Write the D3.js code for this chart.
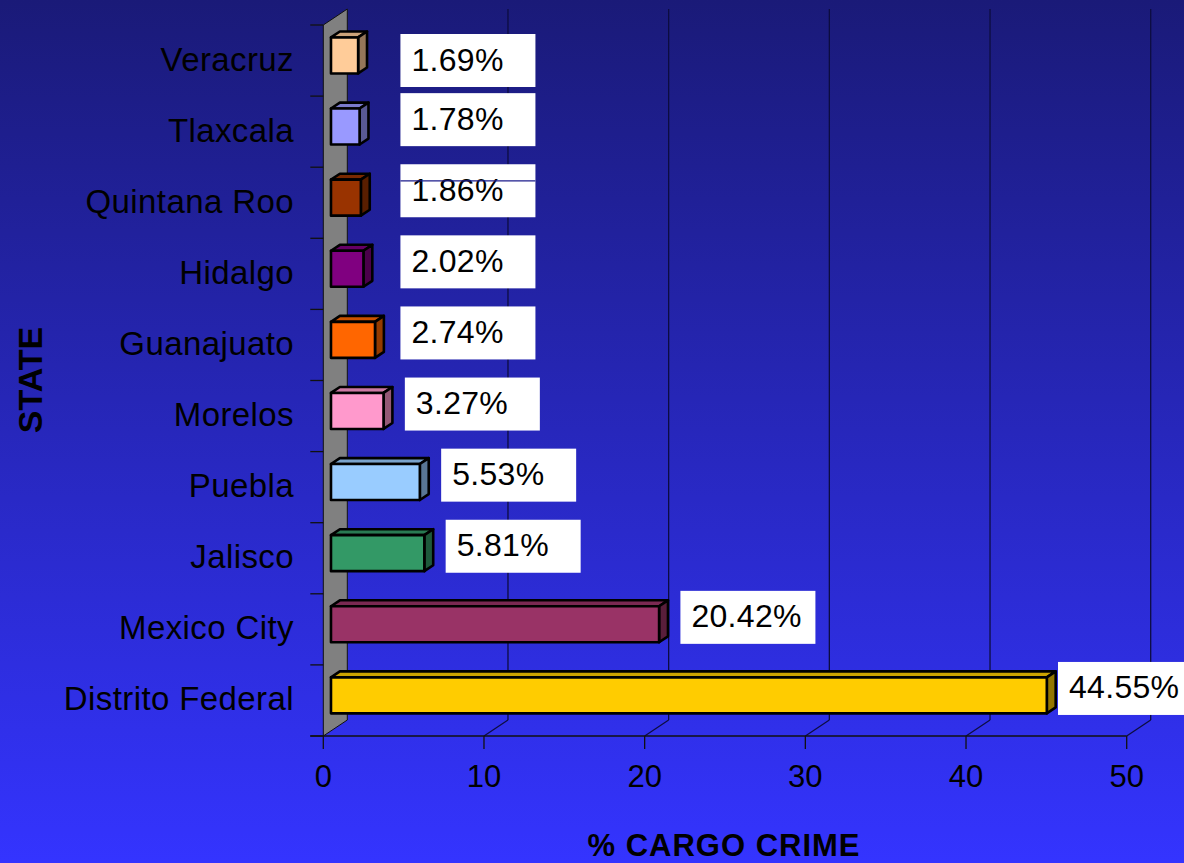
<!DOCTYPE html>
<html>
<head>
<meta charset="utf-8">
<script src="https://cdn.jsdelivr.net/npm/d3@7"></script>
<style>
  body { margin: 0; padding: 0; overflow: hidden; }
  text { font-family: "Liberation Sans", Arial, sans-serif; fill: #000; }
</style>
</head>
<body>
<script>
var states = ['Veracruz', 'Tlaxcala', 'Quintana Roo', 'Hidalgo', 'Guanajuato',
  'Morelos', 'Puebla', 'Jalisco', 'Mexico City', 'Distrito Federal'];
var cargoPct = [1.69, 1.78, 1.86, 2.02, 2.74, 3.27, 5.53, 5.81, 20.42, 44.55];
var barColors = ['#ffcc99', '#9999ff', '#993300', '#800080', '#ff6600',
  '#ff99cc', '#99ccff', '#339966', '#993366', '#ffcc00'];
var xTicks = [0, 10, 20, 30, 40, 50];

var width = 1184,
  height = 863;

// 3d depth of the chart floor / back wall
var depthX = 24,
  depthY = -16;

var svg = d3.select('body').append('svg')
  .attr('width', width)
  .attr('height', height);

var defs = svg.append('defs');
var grad = defs.append('linearGradient')
  .attr('id', 'bg')
  .attr('x1', 0).attr('y1', 0)
  .attr('x2', 0).attr('y2', 1);
grad.append('stop').attr('offset', '0%').attr('stop-color', '#1a1a78');
grad.append('stop').attr('offset', '100%').attr('stop-color', '#3434ff');

svg.append('rect')
  .attr('width', width)
  .attr('height', height)
  .attr('fill', 'url(#bg)');

var x = d3.scaleLinear()
  .domain([0, 50])
  .range([323.3, 1126.7]);

var y = d3.scaleBand()
  .domain(states)
  .range([25, 736]);

var x0 = x(0),
  yTop = y.range()[0],
  yBot = y.range()[1];

// back wall gridlines + floor diagonals
var grid = svg.append('g');
xTicks.slice(1).forEach(function(t) {
  grid.append('line')
    .attr('x1', x(t) + depthX).attr('x2', x(t) + depthX)
    .attr('y1', yTop + depthY).attr('y2', yBot + depthY)
    .attr('stroke', '#0d0d40').attr('stroke-width', 1.3);
  grid.append('line')
    .attr('x1', x(t)).attr('y1', yBot)
    .attr('x2', x(t) + depthX).attr('y2', yBot + depthY)
    .attr('stroke', '#0d0d40').attr('stroke-width', 1.3);
});

// grey side wall
svg.append('polygon')
  .attr('points', [
    [x0, yTop], [x0 + depthX, yTop + depthY],
    [x0 + depthX, yBot + depthY], [x0, yBot]
  ].join(' '))
  .attr('fill', '#808080')
  .attr('stroke', '#111')
  .attr('stroke-width', 1);

// front x axis
var axisG = svg.append('g');
axisG.append('line')
  .attr('x1', x0 - 13).attr('x2', x(50))
  .attr('y1', yBot).attr('y2', yBot)
  .attr('stroke', '#111').attr('stroke-width', 1.3);
axisG.selectAll('.xtick')
  .data(xTicks)
  .enter().append('line')
  .attr('x1', function(d) { return x(d); })
  .attr('x2', function(d) { return x(d); })
  .attr('y1', yBot).attr('y2', yBot + 13)
  .attr('stroke', '#111').attr('stroke-width', 1.3);
axisG.selectAll('.xlab')
  .data(xTicks)
  .enter().append('text')
  .attr('x', function(d) { return x(d); })
  .attr('y', 787)
  .style('text-anchor', 'middle')
  .style('font-size', '31px')
  .text(function(d) { return d; });

// category ticks on the wall edge
var catTicks = states.map(function(s) { return y(s); }).concat([yBot]);
axisG.selectAll('.ytick')
  .data(catTicks)
  .enter().append('line')
  .attr('x1', x0 - 13).attr('x2', x0)
  .attr('y1', function(d) { return d; })
  .attr('y2', function(d) { return d; })
  .attr('stroke', '#111').attr('stroke-width', 1.3);

axisG.selectAll('.ylab')
  .data(states)
  .enter().append('text')
  .attr('x', 294)
  .attr('y', function(d) { return y(d) + y.bandwidth() / 2 + 10; })
  .style('text-anchor', 'end')
  .style('font-size', '33px')
  .style('letter-spacing', '0.4px')
  .text(function(d) { return d; });

// 3d bars
var f0 = 0.32,   // front face position in depth
  fd = 0.37;     // bar thickness in depth
var offX = depthX * f0, offY = depthY * f0;
var bdx = depthX * fd, bdy = depthY * fd;
var barH = 36;

var bars = svg.selectAll('.bar')
  .data(cargoPct)
  .enter().append('g');

bars.each(function(v, i) {
  var g = d3.select(this);
  var col = d3.color(barColors[i]);
  var cy = y(states[i]) + y.bandwidth() / 2 + offY;
  var left = x0 + offX,
    right = x(v) + offX,
    top = cy - barH / 2,
    bot = cy + barH / 2;

  var topCol = d3.rgb(col.r * 0.8, col.g * 0.8, col.b * 0.8);
  var sideCol = d3.rgb(col.r * 0.58, col.g * 0.58, col.b * 0.58);

  g.append('polygon')
    .attr('points', [[left, top], [left + bdx, top + bdy], [right + bdx, top + bdy], [right, top]].join(' '))
    .attr('fill', topCol);
  g.append('polygon')
    .attr('points', [[right, top], [right + bdx, top + bdy], [right + bdx, bot + bdy], [right, bot]].join(' '))
    .attr('fill', sideCol);
  g.append('rect')
    .attr('x', left).attr('y', top)
    .attr('width', right - left).attr('height', barH)
    .attr('fill', col);
  g.selectAll('polygon, rect')
    .attr('stroke', '#000')
    .attr('stroke-width', 2.6)
    .attr('stroke-linejoin', 'round');
});

// value labels in white boxes
var boxW = 135, boxH = 53;
var labels = svg.selectAll('.lbl')
  .data(cargoPct)
  .enter().append('g')
  .attr('transform', function(d, i) {
    var bx = Math.min(Math.max(x(d) + 29, x(4.8)), width - 126);
    var cy = y(states[i]) + y.bandwidth() / 2 - 12;
    var by = Math.max(cy - boxH / 2, yTop + 9);
    return 'translate(' + bx + ',' + by + ')';
  });

labels.append('rect')
  .attr('width', boxW)
  .attr('height', boxH)
  .attr('fill', '#fff');

labels.append('text')
  .attr('x', 11)
  .attr('y', boxH / 2 + 10)
  .style('font-size', '32px')
  .style('letter-spacing', '0.3px')
  .text(function(d) { return d.toFixed(2) + '%'; });

// thin stray line across the Quintana Roo label, as in the original
labels.filter(function(d, i) { return i === 2; })
  .append('line')
  .attr('x1', 0).attr('x2', boxW)
  .attr('y1', 16.7).attr('y2', 16.7)
  .attr('stroke', '#1d1d8c').attr('stroke-width', 1.2);

// axis titles
svg.append('text')
  .attr('x', 724)
  .attr('y', 856)
  .style('text-anchor', 'middle')
  .style('font-size', '31px')
  .style('font-weight', 'bold')
  .style('letter-spacing', '1px')
  .text('% CARGO CRIME');

svg.append('text')
  .attr('transform', 'translate(42,380) rotate(-90)')
  .style('text-anchor', 'middle')
  .style('font-size', '34px')
  .style('font-weight', 'bold')
  .text('STATE');
</script>
</body>
</html>
